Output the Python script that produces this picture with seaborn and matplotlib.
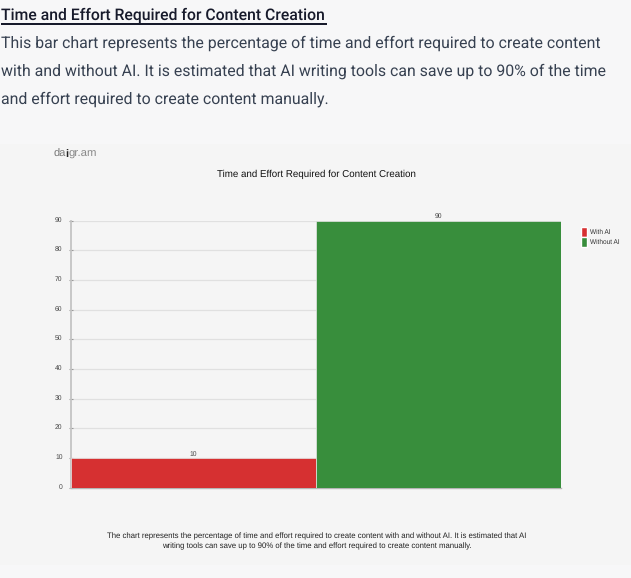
import matplotlib
matplotlib.use('Agg')
import matplotlib.pyplot as plt
from matplotlib.patches import Rectangle
from matplotlib.transforms import ScaledTranslation
import pandas as pd
import seaborn as sns

# dados do grafico
categories = ['With AI', 'Without AI']
values = [10, 90]
colors = ['#d63031', '#388e3c']
y_ticks = [0, 10, 20, 30, 40, 50, 60, 70, 80, 90]

heading = 'Time and Effort Required for Content Creation'
body_lines = [
    'This bar chart represents the percentage of time and effort required to create content',
    'with and without AI. It is estimated that AI writing tools can save up to 90% of the time',
    'and effort required to create content manually.',
]
caption_lines = [
    'The chart represents the percentage of time and effort required to create content with and without AI. It is estimated that AI',
    'writing tools can save up to 90% of the time and effort required to create content manually.',
]

W, H = 631, 578
df = pd.DataFrame({'category': categories, 'value': values})

sns.set_theme(style='white')
plt.rcParams['font.family'] = ['Liberation Sans', 'DejaVu Sans']
plt.rcParams['text.hinting'] = 'no_hinting'

fig = plt.figure(figsize=(W / 100, H / 100), dpi=100, facecolor='#f7f7f8')

# painel cinza atras do grafico
fig.patches.append(Rectangle((0, 1 - 565 / H), 1, 421 / H, transform=fig.transFigure,
                             facecolor='#f5f5f5', edgecolor='none', zorder=-5))

ax = fig.add_axes([71 / W, 1 - 487.7 / H, 490 / W, 267.2 / H])
ax.set_facecolor('#f5f5f5')
sns.barplot(data=df, x='category', y='value', hue='category', palette=colors,
            hue_order=categories, saturation=1, width=0.996, ax=ax, legend=True, zorder=3)
ax.set_xlim(-0.5, 1.5)
ax.set_ylim(0, 90)
ax.set_yticks(y_ticks)
ax.set_xticks([])
ax.set_xlabel('')
ax.set_ylabel('')
ax.tick_params(axis='y', labelsize=4.9, labelcolor='#444444', length=3, width=0.8,
               color='#999999', pad=4.6, left=True, direction='inout')
ax.grid(axis='y', color='#e0e0e0', linewidth=0.9, zorder=0)
ax.set_axisbelow(True)
for s in ['top', 'right']:
    ax.spines[s].set_visible(False)
ax.spines['left'].set_color('#c4c4c4')
ax.spines['left'].set_linewidth(1.3)
ax.spines['bottom'].set_color('#b5b5b5')
ax.spines['bottom'].set_linewidth(1.0)

# rotulos do eixo y ficam um pouco acima da marca
shift = ScaledTranslation(0, 1.6 / 100, fig.dpi_scale_trans)
for lab in ax.get_yticklabels():
    lab.set_transform(lab.get_transform() + shift)

# borda clara das barras e rotulos de valor
for cont in ax.containers:
    for bar in cont:
        bar.set_edgecolor('#e6e6e6')
        bar.set_linewidth(0.5)
    ax.bar_label(cont, fontsize=4.9, color='#444444', padding=0.5)

handles, labels = ax.get_legend_handles_labels()
leg = ax.legend(handles, labels, loc='upper left', bbox_to_anchor=(579 / W, 1 - 225 / H),
                bbox_transform=fig.transFigure, frameon=False, fontsize=4.7,
                handlelength=0.9, handleheight=2.05, handletextpad=0.5,
                labelspacing=-0.1, borderpad=0.3, borderaxespad=0)
for t in leg.get_texts():
    t.set_color('#333333')

# textos da pagina
def put(x, y, s, **kw):
    fig.text(x / W, 1 - y / H, s, va='center', **kw)

put(1, 15.5, heading, fontsize=11.35, fontweight='medium', family='Roboto', color='#171a2b')
fig.patches.append(Rectangle((1 / W, 1 - 25 / H), 326 / W, 2 / H, transform=fig.transFigure,
                             facecolor='#171a2b', edgecolor='none'))
for y, line in zip([43.5, 71.5, 99.5], body_lines):
    put(1, y, line, fontsize=11.4, family='Roboto', color='#374151')

fig.text(54 / W, 1 - 157 / H, 'da', fontsize=8, color='#777777', va='baseline')
fig.text(65.3 / W, 1 - 157 / H, 'i', fontsize=8, fontweight='bold', color='#222222', va='baseline')
fig.text(69 / W, 1 - 157 / H, 'gr.am', fontsize=8.2, color='#888888', va='baseline')

fig.text(316.5 / W, 1 - 174 / H, heading, fontsize=7.05, color='#111111', ha='center', va='center')
for y, line in zip([536, 546], caption_lines):
    fig.text(316.5 / W, 1 - y / H, line, fontsize=5.57, color='#222222', ha='center', va='center')

fig.savefig('out.png', dpi=100, facecolor=fig.get_facecolor())
